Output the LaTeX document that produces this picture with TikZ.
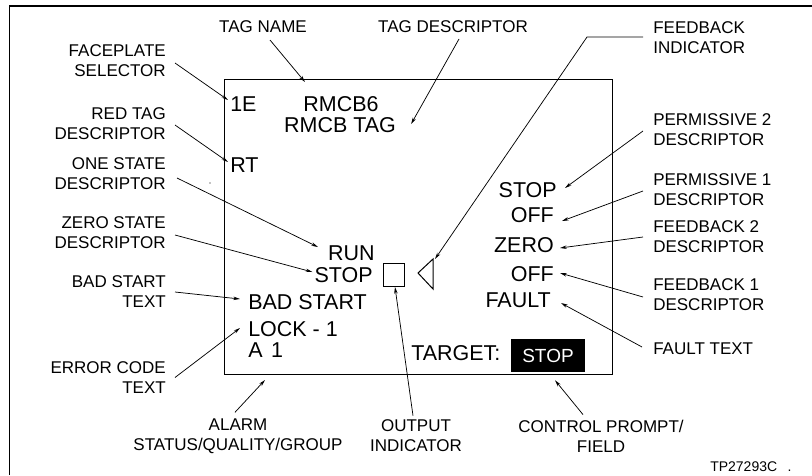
\documentclass[tikz,border=0pt]{standalone}
\usepackage{fontspec}
\setmainfont{Liberation Sans}
\usetikzlibrary{arrows.meta,calc}
\begin{document}
\begin{tikzpicture}[x=0.75pt,y=-0.75pt,
  lbl/.style={font=\fontsize{12.75}{15}\selectfont,inner sep=0pt},
  disp/.style={font=\fontsize{16.1}{19}\selectfont,inner sep=0pt},
  arr/.style={line width=0.55pt,-{Stealth[length=5pt,width=2.6pt]}},
  thinline/.style={line width=0.75pt}]
\useasboundingbox (0,0) rectangle (812,475);
% frame and screen
\draw[line width=1.3pt] (9.5,475) -- (9.5,6) -- (812,6);
\draw[thinline] (224,79) rectangle (612,374);
\fill (210,183) circle (0.6);
% display contents
\node[disp,anchor=west] (d1e) at (230,104) {1E};
\node[disp] (drmcb) at (341,104) {RMCB6};
\node[disp] (dtag) at (340,125) {RMCB TAG};
\node[disp,anchor=west] (drt) at (230,165) {RT};
\node[disp,anchor=east] (drun) at (375,253) {RUN};
\node[disp,anchor=east] (dstopl) at (373,275) {STOP};
\node[draw,thinline,minimum width=15.75pt,minimum height=17.25pt,inner sep=0pt] (outbox) at (393.5,274.5) {};
\coordinate (tritip) at (418,273);
\coordinate (tritop) at (433,259);
\coordinate (tribot) at (433,289);
\draw[thinline] (tritip) -- (tritop) -- (tribot) -- cycle;
\node[disp,anchor=west] (dbad) at (248,302) {BAD START};
\node[disp,anchor=west] (dlock) at (248,329) {LOCK - 1};
\node[disp,anchor=west] (da1) at (248,350) {A\hspace{0.4em}1};
\node[disp,anchor=west] (dtarget) at (411,353) {TARGET:};
\node[fill=black,text=white,font=\fontsize{14.25}{17}\selectfont,minimum width=55.5pt,minimum height=24.75pt,inner sep=0pt] (dfield) at (548,355.5) {STOP};
\node[disp,anchor=east] (dperm2) at (557,190) {STOP};
\node[disp,anchor=east] (dperm1) at (554,215) {OFF};
\node[disp,anchor=east] (dfb2) at (554,245) {ZERO};
\node[disp,anchor=east] (dfb1) at (554,274) {OFF};
\node[disp,anchor=east] (dfault) at (551,300) {FAULT};
% labels
\node[lbl] (ltagname) at (263,27) {TAG NAME};
\node[lbl] (ltagdesc) at (453,27) {TAG DESCRIPTOR};
\node[lbl,align=left,anchor=west] (lfbind) at (653,38) {FEEDBACK\\INDICATOR};
\node[lbl,align=right,anchor=east] (lfs) at (166,61) {FACEPLATE\\SELECTOR};
\node[lbl,align=right,anchor=east] (lrt) at (166,124) {RED TAG\\DESCRIPTOR};
\node[lbl,align=right,anchor=east] (lone) at (166,173.5) {ONE STATE\\DESCRIPTOR};
\node[lbl,align=right,anchor=east] (lzero) at (166,233) {ZERO STATE\\DESCRIPTOR};
\node[lbl,align=right,anchor=east] (lbad) at (166,292) {BAD START\\TEXT};
\node[lbl,align=right,anchor=east] (lerr) at (166,377.5) {ERROR CODE\\TEXT};
\node[lbl,align=center] (lalarm) at (238,436) {ALARM\\STATUS/QUALITY/GROUP};
\node[lbl,align=center] (lout) at (416,436) {OUTPUT\\INDICATOR};
\node[lbl,align=center] (lctrl) at (601,436) {CONTROL PROMPT/\\FIELD};
\node[lbl,align=left,anchor=west] (lperm2) at (653,129.5) {PERMISSIVE 2\\DESCRIPTOR};
\node[lbl,align=left,anchor=west] (lperm1) at (653,189.5) {PERMISSIVE 1\\DESCRIPTOR};
\node[lbl,align=left,anchor=west] (lfb2) at (653,237) {FEEDBACK 2\\DESCRIPTOR};
\node[lbl,align=left,anchor=west] (lfb1) at (653,294.5) {FEEDBACK 1\\DESCRIPTOR};
\node[lbl,anchor=west] (lfault) at (653,349) {FAULT TEXT};
\node[font=\fontsize{10.5}{12}\selectfont,inner sep=0pt,anchor=west] (tp) at (710,467) {TP27293C\hspace{0.75em}.};
% connectors
\draw[arr] ($(ltagname.center)+(7,13)$) -- ($(drmcb.center)+(-36,-22)$);
\draw[arr] ($(ltagdesc.center)+(6,12)$) -- ($(dtag.east)+(15,-1)$);
\draw[arr] ($(lfbind.west)+(-10,-1)$) -- ++(-56,0) -- ($(tritop)+(2,0)$);
\draw[arr] ($(lfs.east)+(9,2)$) -- ($(d1e.west)+(-2,-4)$);
\draw[arr] ($(lrt.east)+(9,1)$) -- ($(drt.west)+(-2,-3)$);
\draw[arr] ($(lone.east)+(11,4.5)$) -- ($(drun.west)+(-10,-6)$);
\draw[arr] ($(lzero.east)+(9,2)$) -- ($(dstopl.west)+(-2,-3)$);
\draw[arr] ($(lbad.east)+(9,0)$) -- ($(dbad.west)+(-8,-3)$);
\draw[arr] ($(lerr.east)+(9,0)$) -- ($(dlock.west)+(-8,-1)$);
\draw[arr] ($(lalarm.north)+(-3,-6)$) -- ($(da1.west)+(17,30)$);
\draw[arr] ($(lout.north)+(-3,-4)$) -- ($(outbox.south)+(1.5,0.5)$);
\draw[arr] ($(lctrl.north)+(-18,-5)$) -- ($(dfield.south)+(7,8)$);
\draw[arr] ($(lperm2.west)+(-10,1.5)$) -- ($(dperm2.east)+(8,-2)$);
\draw[arr] ($(lperm1.west)+(-10,1.5)$) -- ($(dperm1.east)+(8,6)$);
\draw[arr] ($(lfb2.west)+(-10,0)$) -- ($(dfb2.east)+(6,3)$);
\draw[arr] ($(lfb1.west)+(-10,2.5)$) -- ($(dfb1.east)+(6,-1)$);
\draw[arr] ($(lfault.west)+(-11,-2)$) -- ($(dfault.east)+(10,3)$);
\end{tikzpicture}
\end{document}
